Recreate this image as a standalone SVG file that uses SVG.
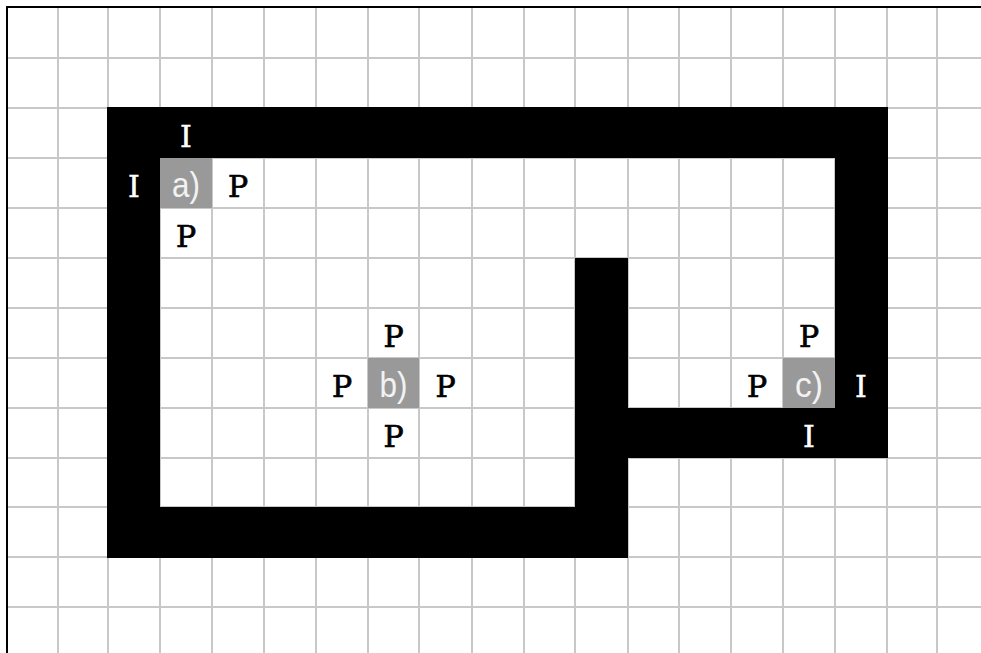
<svg xmlns="http://www.w3.org/2000/svg" width="981" height="653" viewBox="0 0 981 653">
  <style>
    .grid line { stroke: #c8c8c8; stroke-width: 2; }
    .wall { fill: #000000; fill-rule: evenodd; }
    .cell { fill: #999999; }
    .lbl { font-family: "Liberation Sans", Arial, sans-serif; font-size: 35px; fill: #f2f2f2; text-anchor: middle; }
    .p { font-family: "DejaVu Serif", "Liberation Serif", serif; font-size: 30px; fill: #000000; stroke: #000000; stroke-width: 0.7; text-anchor: middle; }
    .i { font-family: "DejaVu Serif", "Liberation Serif", serif; font-size: 30px; fill: #ffffff; stroke: #ffffff; stroke-width: 0.5; text-anchor: middle; }
  </style>
  <rect x="0" y="0" width="981" height="653" fill="#ffffff"/>
  <g id="grid" class="grid">
    <line x1="58" y1="8" x2="58" y2="653"/>
    <line x1="108" y1="8" x2="108" y2="653"/>
    <line x1="160" y1="8" x2="160" y2="653"/>
    <line x1="212" y1="8" x2="212" y2="653"/>
    <line x1="264" y1="8" x2="264" y2="653"/>
    <line x1="316" y1="8" x2="316" y2="653"/>
    <line x1="368" y1="8" x2="368" y2="653"/>
    <line x1="419" y1="8" x2="419" y2="653"/>
    <line x1="472" y1="8" x2="472" y2="653"/>
    <line x1="524" y1="8" x2="524" y2="653"/>
    <line x1="575" y1="8" x2="575" y2="653"/>
    <line x1="628" y1="8" x2="628" y2="653"/>
    <line x1="679" y1="8" x2="679" y2="653"/>
    <line x1="731" y1="8" x2="731" y2="653"/>
    <line x1="783" y1="8" x2="783" y2="653"/>
    <line x1="835" y1="8" x2="835" y2="653"/>
    <line x1="887" y1="8" x2="887" y2="653"/>
    <line x1="937" y1="8" x2="937" y2="653"/>
    <line x1="8" y1="58" x2="981" y2="58"/>
    <line x1="8" y1="108" x2="981" y2="108"/>
    <line x1="8" y1="158" x2="981" y2="158"/>
    <line x1="8" y1="208" x2="981" y2="208"/>
    <line x1="8" y1="258" x2="981" y2="258"/>
    <line x1="8" y1="308" x2="981" y2="308"/>
    <line x1="8" y1="358" x2="981" y2="358"/>
    <line x1="8" y1="408" x2="981" y2="408"/>
    <line x1="8" y1="458" x2="981" y2="458"/>
    <line x1="8" y1="507" x2="981" y2="507"/>
    <line x1="8" y1="557" x2="981" y2="557"/>
    <line x1="8" y1="607" x2="981" y2="607"/>
  </g>
  <g id="frame">
    <line x1="6" y1="7" x2="981" y2="7" stroke="#000000" stroke-width="2"/>
    <line x1="7" y1="6" x2="7" y2="653" stroke="#000000" stroke-width="2"/>
  </g>
  <g id="walls">
    <path class="wall" d="M107,107 H888 V458 H628 V558 H107 Z M160,158 V507 H575 V258 H628 V408 H835 V158 Z"/>
  </g>
  <g id="cell-a">
    <rect class="cell" x="160" y="158" width="52" height="50"/>
    <text class="lbl" x="186" y="197" textLength="28" lengthAdjust="spacingAndGlyphs">a)</text>
    <text class="i" x="186" y="147">I</text>
    <text class="i" x="134" y="197">I</text>
    <text class="p" x="238" y="197">P</text>
    <text class="p" x="186" y="247">P</text>
  </g>
  <g id="cell-b">
    <rect class="cell" x="368" y="358" width="51" height="50"/>
    <text class="lbl" x="393.5" y="397" textLength="28" lengthAdjust="spacingAndGlyphs">b)</text>
    <text class="p" x="393.5" y="347">P</text>
    <text class="p" x="342" y="397">P</text>
    <text class="p" x="445.5" y="397">P</text>
    <text class="p" x="393.5" y="447">P</text>
  </g>
  <g id="cell-c">
    <rect class="cell" x="783" y="358" width="52" height="50"/>
    <text class="lbl" x="809" y="397" textLength="28" lengthAdjust="spacingAndGlyphs">c)</text>
    <text class="p" x="809" y="347">P</text>
    <text class="p" x="757" y="397">P</text>
    <text class="i" x="861" y="397">I</text>
    <text class="i" x="809" y="447">I</text>
  </g>
</svg>
